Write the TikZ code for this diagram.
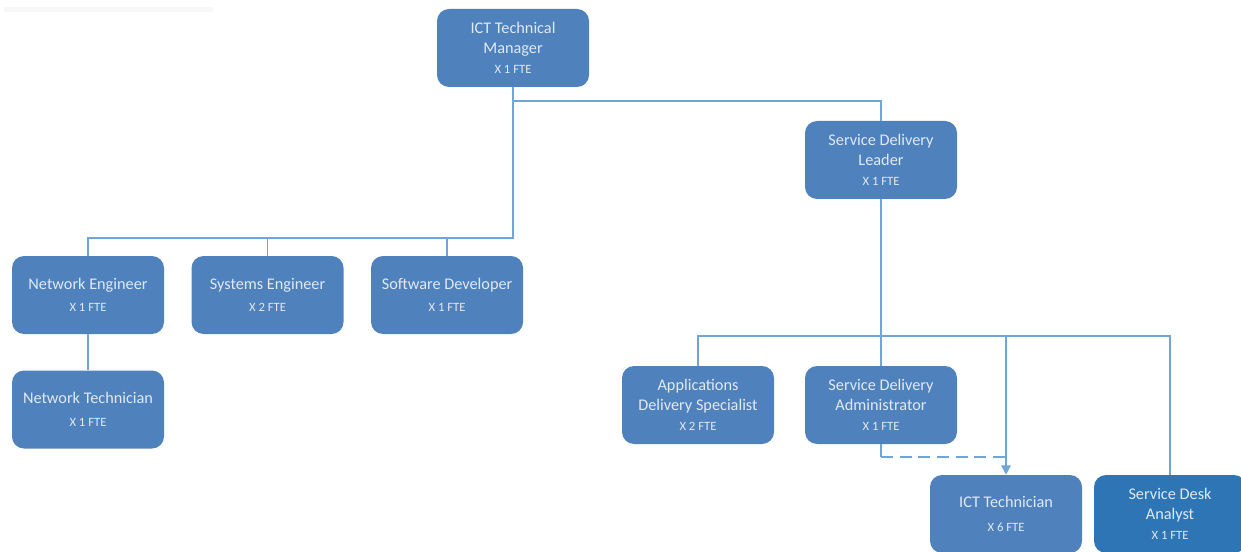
\documentclass[tikz,border=0pt]{standalone}
\usepackage{fontspec}
\setmainfont{Carlito}
\usepackage{tikz}
\usetikzlibrary{arrows.meta,positioning,calc}

\definecolor{boxblue}{HTML}{4F81BD}
\definecolor{deskblue}{HTML}{2E75B6}
\definecolor{boxtext}{HTML}{E1E9F4}
\definecolor{linkblue}{HTML}{6FA5DA}

\newcommand{\ftefont}{\fontsize{9.5}{11}\selectfont}

\begin{document}
\begin{tikzpicture}[
    x=0.75pt, y=-0.75pt,
    box/.style={rectangle, fill=boxblue, text=boxtext, minimum width=114pt, minimum height=58.5pt, align=center, rounded corners=9pt, inner sep=2pt, font=\fontsize{12.2}{15}\selectfont},
    link/.style={draw=linkblue, line width=1.4pt},
    arr/.style={link, -{Triangle[length=7pt, width=7pt]}},
]
\useasboundingbox (0,0) rectangle (1241,552);
% faint rule at the top left
\fill[black!3] (4,7) rectangle (213,12);

% Top
\node[box] (mgr) at (513,48) {ICT Technical\\Manager\\[0pt]{\ftefont X 1 FTE}};
\node[box] (sdl) at (881,160) {Service Delivery\\Leader\\[0pt]{\ftefont X 1 FTE}};
% Technical team
\node[box] (neteng) at (88,295) {Network Engineer\\[2pt]{\ftefont X 1 FTE}};
\node[box, right=20.25pt of neteng] (syseng) {Systems Engineer\\[2pt]{\ftefont X 2 FTE}};
\node[box, right=20.25pt of syseng] (softdev) {Software Developer\\[2pt]{\ftefont X 1 FTE}};
\node[box, below=27pt of neteng] (nettech) {Network Technician\\[2pt]{\ftefont X 1 FTE}};
% Service delivery team
\node[box] (appspec) at (698,405) {Applications\\Delivery Specialist\\[0pt]{\ftefont X 2 FTE}};
\node[box] (sdadmin) at (881,405) {Service Delivery\\Administrator\\[0pt]{\ftefont X 1 FTE}};
\node[box] (icttech) at (1006,514) {ICT Technician\\[3pt]{\ftefont X 6 FTE}};
\node[box, fill=deskblue] (deskan) at (1170,514) {Service Desk\\Analyst\\[0pt]{\ftefont X 1 FTE}};

% Connectors
\coordinate (busA) at (513,238);
\coordinate (busB) at (881,336);
\draw[link] (mgr.south) -- ++(0,14) -| (sdl.north);
\draw[link] (mgr.south) -- (busA) -| (neteng.north);
\draw[link] (busA) -| (syseng.north);
\draw[link] (busA) -| (softdev.north);
\draw[link] (neteng) -- (nettech);
\draw[link] (sdl.south) -- (busB) -| (appspec.north);
\draw[link] (busB) -- (sdadmin.north);
\draw[link] (busB) -| (deskan.north);
\draw[arr] (busB) -| (icttech.north);
\draw[link] (sdadmin.south) -- ++(0,13) coordinate (dotline);
\draw[link, dash pattern=on 9pt off 5pt] (dotline) -- (dotline -| icttech.north);
\end{tikzpicture}
\end{document}
